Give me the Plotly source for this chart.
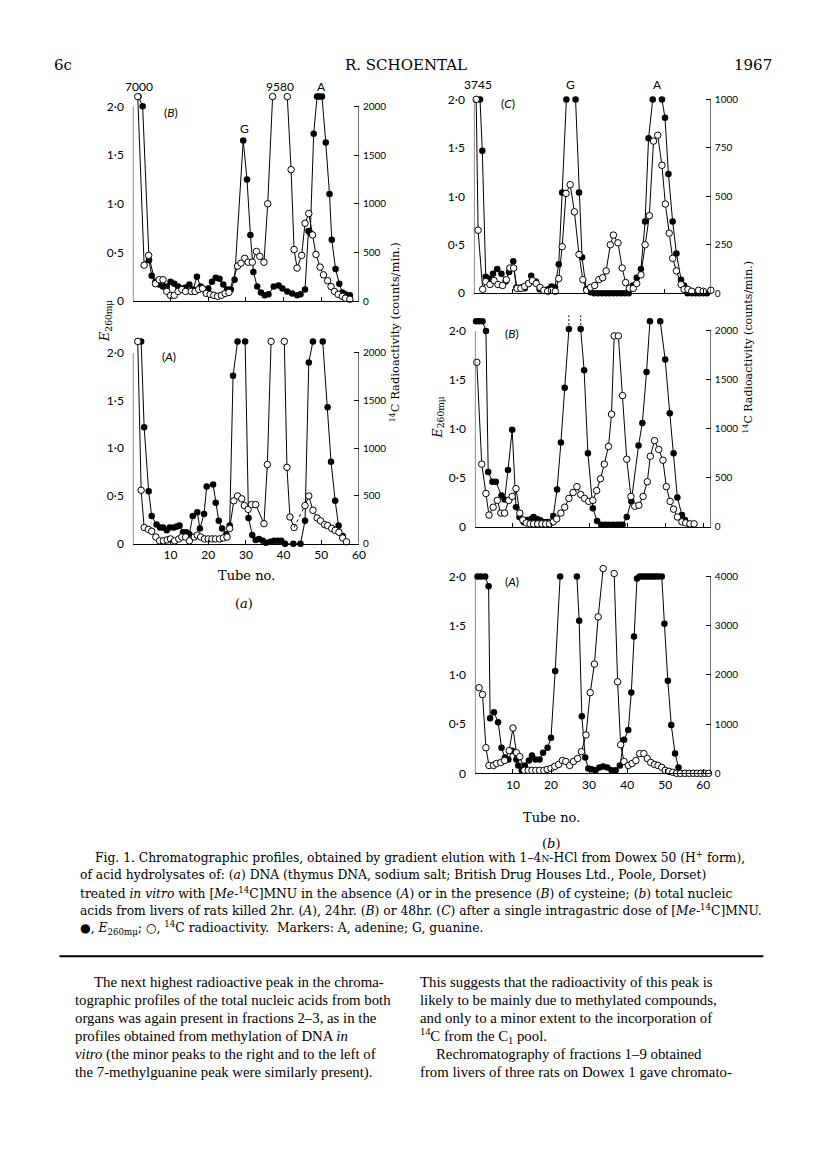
import plotly.graph_objects as go

W, H = 816, 1159
YMAX = 2.16          # top of each plotting box on the E260 scale
SERIF = "DejaVu Serif"
SANS = "Lato"

# ---------------- data: tube no. / E260 (filled) / 14C on E-scale (open) ----------------
# (a)(B)
aB_e_tube = [1.5, 2.6, 4.3, 5, 6, 7, 8, 9, 10, 11, 12, 13, 14, 15, 16, 17, 18, 19, 20, 21,
             22, 23, 24, 25, 26, 27, 29.3, 30.3, 31.2, 32, 33, 34, 35, 36, 37.4, 38.7, 39.7, 41,
             42.3, 43.6, 44.5, 45.7, 46.6, 47.1, 48, 48.9, 49.5, 50.2, 51.2, 52.2, 52.8, 53.8,
             54.8, 55.6, 56.4, 57.6]
aB_e = [2.1, 2.0, 0.42, 0.26, 0.2, 0.17, 0.15, 0.15, 0.2, 0.18, 0.15, 0.13, 0.14, 0.17, 0.12,
        0.25, 0.15, 0.12, 0.13, 0.2, 0.24, 0.23, 0.17, 0.12, 0.12, 0.22, 1.65, 1.25, 0.68, 0.3,
        0.15, 0.09, 0.06, 0.07, 0.15, 0.16, 0.13, 0.1, 0.08, 0.06, 0.07, 0.12, 0.72, 0.7, 1.72,
        2.1, 2.1, 2.1, 1.63, 1.1, 0.63, 0.33, 0.18, 0.09, 0.07, 0.06]
aB_r_tube = [1.3, 3.0, 4.2, 6, 7, 8, 9, 10, 11, 12, 13, 14, 15.5, 16.5, 17.5, 18.5, 19.5, 20.5,
             21.5, 22.5, 23.5, 24.5, 25.5, 27.8, 28.7, 29.7, 30.6, 31.7, 32.8, 33.7, 34.8, 35.8,
             37.1, None, 41, 42, 42.8, 43.6, 44.8, 45.7, 46.7, 47.7, 48.6, 49.7, 50.6, 51.7, 52.6,
             53.5, 54.5, 55.6, 56.4, 57.6]
aB_r = [2.1, 0.37, 0.47, 0.18, 0.22, 0.22, 0.1, 0.06, 0.06, 0.1, 0.12, 0.1, 0.1, 0.1, 0.12,
        0.13, 0.08, 0.07, 0.06, 0.05, 0.06, 0.08, 0.09, 0.36, 0.39, 0.44, 0.4, 0.4, 0.51, 0.46,
        0.4, 1.0, 2.1, None, 2.1, 1.35, 0.53, 0.34, 0.47, 0.8, 0.9, 0.68, 0.48, 0.35, 0.27, 0.21,
        0.15, 0.1, 0.07, 0.05, 0.03, 0.02]

# (a)(A)
aA_e_tube = [1.3, 2.2, 3, 4.2, 5, 6.3, 7.2, 8, 9, 9.8, 10.9, 11.7, 12.4, 13.3, 14.2, 15, 15.9,
             17.1, 17.8, 18.9, 19.6, 21.3, 22, 22.8, 23.7, 24.8, 25.7, 26.6, 27.8, None, 29.8,
             30.7, 31.7, 32.6, 33.5, 34.5, 35.3, 36.5, 37.5, 38.5, 39.4, 40.4, 42.6, 44.5, 45.7,
             46.7, 47.8, None, 50.4, 51.7, 52.6, 53.7, 54.6, 55.7]
aA_e = [2.12, 2.12, 1.22, 0.55, 0.29, 0.2, 0.17, 0.17, 0.14, 0.17, 0.17, 0.18, 0.19, 0.12, 0.12,
        0.1, 0.29, 0.33, 0.16, 0.31, 0.6, 0.62, 0.43, 0.24, 0.16, 0.1, 0.19, 1.76, 2.12, None,
        2.12, 0.27, 0.09, 0.04, 0.05, 0.03, 0.01, 0.02, 0.03, 0.03, 0.03, 0.0, 0.0, 0.0, 0.24,
        1.9, 2.12, None, 2.12, 1.43, 0.86, 0.45, 0.19, 0.08]
aA_r_tube = [1.3, 2.2, 3, 4.1, 5, 6.1, 7.1, 8.1, 9.1, 10, 11.1, 12.2, 13, 14, 15, 16.3, 17.1, 18,
             19, 20, 21, 21.9, 23, 24, 25, 25.7, 26.8, 27.8, 28.9, 29.6, 30.6, 31.5, 32.6, 34.8,
             35.7, 36.7, None, 40.2, 40.9, 41.7, 42.8]
aA_r = [2.12, 0.56, 0.17, 0.15, 0.13, 0.07, 0.03, 0.03, 0.04, 0.05, 0.03, 0.05, 0.07, 0.07, 0.03,
        0.07, 0.09, 0.07, 0.05, 0.05, 0.05, 0.05, 0.05, 0.06, 0.07, 0.16, 0.45, 0.5, 0.47, 0.4,
        0.36, 0.41, 0.41, 0.21, 0.83, 2.12, None, 2.12, 0.8, 0.28, 0.17]
aA_r2_tube = [45.7, 46.7, 47.8, 48.9, 49.8, 50.9, 51.7, 52.8, 53.7, 54.7, 55.7, 56.7]
aA_r2 = [0.4, 0.5, 0.35, 0.27, 0.24, 0.2, 0.19, 0.16, 0.14, 0.12, 0.06, 0.02]

# (b)(C)
bC_e_tube = [1.6, 2.2, 3.1, 4, 5, 6.1, 7.2, 8.3, 9.2, 10.3, 11.1, 12.3, 13.3, 14.2, 15, 16.2,
             17.2, 18.3, 19.4, 20.3, 21.2, 22.2, 23.1, 24.2, None, 26.6, 27.5, 28.3, 29.4, 30.5,
             31.5, 32.5, 33.5, 34.5, 35.5, 36.5, 37.5, 38.5, 39.5, 40.5, 41.6, 42.6, 43.7, 44.8,
             45.7, 46.8, None, 49.2, 50, 50.9, 52, 53, 54.2, 55, 55.9, 57, 58, 59, 60, 61]
bC_e = [2.0, 1.47, 0.17, 0.15, 0.2, 0.25, 0.2, 0.12, 0.22, 0.33, 0.06, 0.06, 0.05, 0.1, 0.18,
        0.12, 0.04, 0.03, 0.04, 0.07, 0.06, 0.3, 1.04, 2.0, None, 2.0, 1.04, 0.37, 0.04, 0.01,
        0.0, 0.0, 0.0, 0.0, 0.0, 0.0, 0.0, 0.0, 0.0, 0.0, 0.08, 0.16, 0.25, 0.74, 1.6, 2.0, None,
        2.0, 1.81, 1.23, 0.74, 0.41, 0.14, 0.08, 0.0, 0.0, 0.0, 0.0, 0.0, 0.0]
bC_r_tube = [0.6, 1.1, 2.3, 3.1, 4.2, 5.3, 6.3, 7.5, 8.5, 9.4, 10.4, 11.3, 12.3, 13.3, 14.3,
             15.3, 16.3, 17.3, 18.3, 19.3, 20.3, 21.3, 22.2, 23.1, 24.1, 25.2, 26.3, 27.5, 28.5,
             29.5, 30.5, 31.6, 32.7, 33.7, 34.6, 35.7, 36.5, 37.7, 38.8, 39.7, 40.7, 41.7, 42.6,
             43.7, 44.8, 45.9, 47, 48.1, 49.2, 50.1, 51.1, 52, 53, 54.2, 55, 56, 57, 58.8, 60, 62]
bC_r = [2.0, 0.65, 0.04, 0.12, 0.09, 0.13, 0.09, 0.08, 0.14, 0.26, 0.26, 0.05, 0.05, 0.07, 0.1,
        0.13, 0.1, 0.06, 0.03, 0.02, 0.03, 0.02, 0.15, 0.48, 1.03, 1.12, 0.84, 0.4, 0.14, 0.03,
        0.06, 0.08, 0.14, 0.16, 0.23, 0.5, 0.6, 0.52, 0.26, 0.11, 0.05, 0.05, 0.1, 0.19, 0.5, 0.8,
        1.57, 1.63, 1.32, 0.92, 0.62, 0.36, 0.23, 0.09, 0.04, 0.04, 0.02, 0.03, 0.02, 0.03]

# (b)(B)
bB_e_tube = [0.3, 1.1, 2, 2.9, 3.5, 4.6, 5.5, 7, 7.8, 8.7, 9.8, 10.8, 11.7, 12.8, 13.7, 14.8,
             15.4, 16.3, 17.1, 18, 19, 20.6, 21.6, 22.6, 23.6, 24.7, None, 27.8, 28.7, 29.7, 31,
             32.1, 33.2, 34.2, 35.2, 36.2, 37.2, 38, 38.8, 39.9, 41.1, 43, 44, 45.1, 46, None,
             48.7, 50, 51.2, 52.2, 53.2, 54.4, 55.2, 56.5]
bB_e = [2.1, 2.1, 2.1, 2.0, 0.56, 0.46, 0.46, 0.32, 0.28, 0.58, 0.99, 0.2, 0.1, 0.05, 0.07, 0.08,
        0.1, 0.08, 0.07, 0.05, 0.05, 0.11, 0.38, 0.86, 1.42, 2.02, None, 2.02, 1.6, 0.75, 0.19,
        0.06, 0.02, 0.02, 0.02, 0.02, 0.02, 0.02, 0.02, 0.1, 0.26, 0.83, 1.06, 1.58, 2.1, None,
        2.1, 1.71, 1.16, 0.75, 0.3, 0.12, 0.07, 0.02]
bB_r_tube = [0.5, 1.8, 2.9, 3.7, 4.8, 5.9, 6.8, 7.8, 8.9, 9.8, 10.8, 11.8, 12.6, 13.5, 14.5, 15.4,
             16.5, 17.6, 18.6, 19.6, 20.6, 21.5, 22.6, 23.6, 24.7, 25.8, 26.8, 27.8, 28.8, 29.9,
             31, 32, 33, 34, 35.1, 35.9, 36.6, 37.7, 38.8, 39.9, 41, 42, 43.1, 44.2, 45.3, 46.1,
             47.2, 48.3, 49.4, 50.3, 51.3, 52.2, 53.2, 54.4, 55.4, 56.5, 57.6]
bB_r = [1.68, 0.64, 0.34, 0.12, 0.2, 0.27, 0.14, 0.14, 0.27, 0.31, 0.39, 0.14, 0.07, 0.04, 0.03,
        0.03, 0.03, 0.03, 0.03, 0.03, 0.05, 0.08, 0.14, 0.2, 0.29, 0.35, 0.41, 0.33, 0.29, 0.26,
        0.27, 0.37, 0.49, 0.64, 0.82, 1.15, 1.95, 1.95, 1.34, 0.69, 0.31, 0.21, 0.22, 0.31, 0.46,
        0.72, 0.88, 0.79, 0.68, 0.41, 0.26, 0.18, 0.1, 0.05, 0.04, 0.03, 0.03]

# (b)(A)
bA_e_tube = [0.7, 1.6, 2.7, 3.6, 4, 5, 6.1, 7, 7.9, 8.8, 9.8, 10.9, 11.4, 12.3, 13.1, 14.2, 15,
             15.9, 17, 17.9, 19.1, 20, 21.1, 22.4, None, 26.8, 27.4, 28.1, 29, 29.8, 30.7, 31.7,
             32.7, 33.7, 34.8, 35.9, 37, 38.1, 39.2, 40.3, 41.1, 41.8, 42.6, 43.3, 44, 44.7, 45.4,
             46.1, 46.8, 47.5, 48.2, 49.1, 49.8, 50.7, 51.6, 52.6, 53.5, 54.3]
bA_e = [2.0, 2.0, 2.0, 1.9, 0.56, 0.62, 0.52, 0.26, 0.16, 0.14, 0.23, 0.14, 0.08, 0.03, 0.08,
        0.13, 0.18, 0.14, 0.14, 0.21, 0.26, 0.36, 1.04, 2.0, None, 2.0, 1.55, 0.58, 0.16, 0.05,
        0.04, 0.03, 0.06, 0.07, 0.06, 0.03, 0.03, 0.08, 0.34, 0.44, 0.82, 1.39, 1.98, 2.0, 2.0,
        2.0, 2.0, 2.0, 2.0, 2.0, 2.0, 2.0, 1.52, 0.94, 0.49, 0.2, 0.06, 0.0]
bA_r_tube = [1.1, 2, 2.9, 3.7, 4.9, 5.7, 6.8, 7.8, 9, 10, 10.9, 11.8, 13, 14, 15, 16, 17, 18.1,
             19, 20, 21, 22, 23, 23.9, 24.9, 25.9, 27, 28, 29.2, 30.3, 31.4, 32.4, 33.7, None,
             36.6, 37.5, 38.3, 39.2, 40.3, 41.3, 42.3, 43.3, 44.4, 45.3, 46.2, 47.2, 48.1, 49.1,
             50, 51, 52, 53, 54, 55.2, 56.3, 57.4, 58.4, 59.4, 60.4, 61.4]
bA_r = [0.87, 0.8, 0.26, 0.08, 0.08, 0.1, 0.11, 0.13, 0.23, 0.46, 0.21, 0.17, 0.03, 0.03, 0.03,
        0.03, 0.03, 0.03, 0.04, 0.05, 0.07, 0.09, 0.13, 0.12, 0.08, 0.12, 0.15, 0.22, 0.39, 0.82,
        1.11, 1.59, 2.08, None, 2.03, 0.93, 0.29, 0.12, 0.08, 0.1, 0.13, 0.2, 0.2, 0.15, 0.11,
        0.09, 0.08, 0.06, 0.03, 0.02, 0.01, 0.0, 0.0, 0.0, 0.0, 0.0, 0.0, 0.0, 0.0, 0.0]

# ---------------- panel geometry (page pixels) ----------------
panels = [
    dict(px=(134, 362), zero=303, ppu=98, xmax=60, rtop=2000, xlab=False,
         e=(aB_e_tube, aB_e), r=[(aB_r_tube, aB_r)], tag=("(<i>B</i>)", 172, 113),
         notes=[("7000", 1.6, 2.16), ("9580", 39.1, 2.16), ("A", 50, 2.16), ("G", 29.6, 1.73)]),
    dict(px=(134, 362), zero=547, ppu=96, xmax=60, rtop=2000, xlab=True,
         e=(aA_e_tube, aA_e), r=[(aA_r_tube, aA_r), (aA_r2_tube, aA_r2)], tag=("(<i>A</i>)", 170, 359),
         notes=[("4270", 2.0, 2.2), ("4240", 38.3, 2.2)]),
    dict(px=(478, 717), zero=295, ppu=97.5, xmax=62, rtop=1000, xlab=False,
         e=(bC_e_tube, bC_e), r=[(bC_r_tube, bC_r)], tag=("(<i>C</i>)", 512, 104),
         notes=[("3745", 1.0, 2.11), ("G", 25.3, 2.11), ("A", 48.0, 2.11)]),
    dict(px=(479, 717), zero=530, ppu=98.5, xmax=62, rtop=2000, xlab=False,
         e=(bB_e_tube, bB_e), r=[(bB_r_tube, bB_r)], tag=("(<i>B</i>)", 516, 336), notes=[]),
    dict(px=(479, 717), zero=778, ppu=99, xmax=62, rtop=4000, xlab=True,
         e=(bA_e_tube, bA_e), r=[(bA_r_tube, bA_r)], tag=("(<i>A</i>)", 516, 585),
         notes=[("7150", 35.3, 2.17)]),
]

fig = go.Figure()
layout = dict(width=W, height=H, margin=dict(l=0, r=0, t=0, b=0),
              paper_bgcolor="white", plot_bgcolor="white", showlegend=False)
shapes, notes = [], []
LFONT = dict(family=SANS, size=12, color="black")
RFONT = dict(family=SANS, size=10, color="black")


def text(s, x, y, size, font=SERIF, anchor="left", angle=0, **kw):
    notes.append(dict(text=s, x=x / W, y=1 - y / H, xref="paper", yref="paper", showarrow=False,
                      xanchor=anchor, yanchor="middle", textangle=angle,
                      font=dict(family=font, size=size, color="black"), **kw))


def scaled(vals, f):
    return [None if v is None else v * f for v in vals]


for i, p in enumerate(panels):
    xn = "" if i == 0 else str(i + 1)
    yl, yr = 2 * i + 1, 2 * i + 2
    yln = "" if yl == 1 else str(yl)
    top = p["zero"] - p["ppu"] * YMAX
    xd = [p["px"][0] / W, p["px"][1] / W]
    yd = [1 - p["zero"] / H, 1 - top / H]
    f = p["rtop"] / 2.0          # counts/min per E260 unit on this panel
    layout["xaxis" + xn] = dict(
        domain=xd, range=[0, p["xmax"]], anchor="y" + yln, showgrid=False, zeroline=False,
        showline=True, linecolor="black", linewidth=1, ticks="inside", ticklen=4,
        tickcolor="black", tickvals=[10, 20, 30, 40, 50, 60], showticklabels=p["xlab"],
        tickfont=LFONT)
    layout["yaxis" + yln] = dict(
        domain=yd, range=[0, YMAX], anchor="x" + xn, showgrid=False, zeroline=False,
        showline=False, ticks="", tickvals=[0, 0.5, 1, 1.5, 2],
        ticktext=["0", "0·5", "1·0", "1·5", "2·0"], ticklabelstandoff=8, tickfont=LFONT)
    layout["yaxis" + str(yr)] = dict(
        domain=yd, range=[0, YMAX * f], anchor="x" + xn, overlaying="y" + yln, side="right",
        showgrid=False, zeroline=False, showline=False, ticks="inside", ticklen=5,
        tickcolor="black", tickvals=[p["rtop"] * k / 4 for k in range(5)],
        ticktext=[str(int(p["rtop"] * k / 4)) for k in range(5)], ticklabelstandoff=3,
        tickfont=RFONT)
    # frame lines: left axis up to 2.0, right axis up to its top value
    for xv in (0, p["xmax"]):
        shapes.append(dict(type="line", xref="x" + xn, yref="y" + yln, x0=xv, x1=xv, y0=0, y1=2.0,
                           line=dict(color="black", width=1)))

    xa, ya, yra = "x" + xn, "y" + yln, "y" + str(yr)
    for tubes, vals in p["r"]:
        fig.add_trace(go.Scatter(x=tubes, y=scaled(vals, f), xaxis=xa, yaxis=yra,
                                 mode="lines+markers", line=dict(color="black", width=1),
                                 cliponaxis=False,
                                 marker=dict(symbol="circle", size=6.5, color="white",
                                             line=dict(color="black", width=1))))
    if len(p["r"]) == 2:
        a, b = p["r"]
        fig.add_trace(go.Scatter(x=[a[0][-1], b[0][0]], y=scaled([a[1][-1], b[1][0]], f),
                                 xaxis=xa, yaxis=yra, mode="lines",
                                 line=dict(color="black", width=1, dash="3px,3px")))
    fig.add_trace(go.Scatter(x=p["e"][0], y=p["e"][1], xaxis=xa, yaxis=ya, mode="lines+markers",
                             line=dict(color="black", width=1), cliponaxis=False,
                             marker=dict(symbol="circle", size=6.5, color="black")))
    for s, tx, ty in p["notes"]:
        notes.append(dict(text=s, x=tx, y=ty, xref=xa, yref=ya, showarrow=False,
                          yanchor="middle", yshift=4, font=dict(family=SANS, size=12, color="black")))
    tg = p["tag"]
    text(tg[0], tg[1], tg[2], 12, font=SANS, anchor="center")

# dotted continuation above the cut-off G peak in (b)(B)
gap = bB_e_tube.index(None)
for k in (gap - 1, gap + 1):
    fig.add_trace(go.Scatter(x=[bB_e_tube[k], bB_e_tube[k]], y=[bB_e[k] + 0.04, bB_e[k] + 0.15],
                             xaxis="x4", yaxis="y7", mode="lines", cliponaxis=False,
                             line=dict(color="black", width=1, dash="2px,2px")))

# axis titles
E260 = "<i>E</i><sub>260mμ</sub>"
RAD = "<sup>14</sup>C Radioactivity (counts/min.)"
text(E260, 106, 323, 13, anchor="center", angle=-90)
text(E260, 442, 420, 13, anchor="center", angle=-90)
text(RAD, 399, 335, 11.5, anchor="center", angle=-90)
text(RAD, 755, 350, 11, anchor="center", angle=-90)
text("Tube no.", 249, 579, 13, anchor="center")
text("(<i>a</i>)", 246, 607, 13, anchor="center")
text("Tube no.", 556, 822, 13, anchor="center")
text("(<i>b</i>)", 556, 849, 13, anchor="center")

# page header
text("6c", 52, 65, 15)
text("R. SCHOENTAL", 410, 65, 15, anchor="center")
text("1967", 781, 65, 15, anchor="right")

# caption
cap = [
    "Fig. 1. Chromatographic profiles, obtained by gradient elution with 1–4<span style='font-size:9px'>N</span>-HCl from Dowex 50 (H<sup>+</sup> form),",
    "of acid hydrolysates of: (<i>a</i>) DNA (thymus DNA, sodium salt; British Drug Houses Ltd., Poole, Dorset)",
    "treated <i>in vitro</i> with [<i>Me</i>-<sup>14</sup>C]MNU in the absence (<i>A</i>) or in the presence (<i>B</i>) of cysteine; (<i>b</i>) total nucleic",
    "acids from livers of rats killed 2hr. (<i>A</i>), 24hr. (<i>B</i>) or 48hr. (<i>C</i>) after a single intragastric dose of [<i>Me</i>-<sup>14</sup>C]MNU.",
    "●, <i>E</i><sub>260mμ</sub>; ○, <sup>14</sup>C radioactivity.  Markers: A, adenine; G, guanine.",
]
for k, line in enumerate(cap):
    text(line, 94 if k == 0 else 79, 862 + 18 * k, 12.3)

shapes.append(dict(type="line", xref="paper", yref="paper", x0=60 / W, x1=770 / W,
                   y0=1 - 962 / H, y1=1 - 962 / H, line=dict(color="black", width=2)))

left_col = [
    "The next highest radioactive peak in the chroma-",
    "tographic profiles of the total nucleic acids from both",
    "organs was again present in fractions 2–3, as in the",
    "profiles obtained from methylation of DNA <i>in</i>",
    "<i>vitro</i> (the minor peaks to the right and to the left of",
    "the 7-methylguanine peak were similarly present).",
]
right_col = [
    "This suggests that the radioactivity of this peak is",
    "likely to be mainly due to methylated compounds,",
    "and only to a minor extent to the incorporation of",
    "<sup>14</sup>C from the C<sub>1</sub> pool.",
    "Rechromatography of fractions 1–9 obtained",
    "from livers of three rats on Dowex 1 gave chromato-",
]
for k, line in enumerate(left_col):
    text(line, 93 if k == 0 else 74, 988 + 18.2 * k, 14.8, font="Liberation Serif")
for k, line in enumerate(right_col):
    text(line, 438 if k == 4 else 422, 988 + 18.2 * k, 14.8, font="Liberation Serif")

layout["shapes"] = shapes
layout["annotations"] = notes
fig.update_layout(**layout)
fig.write_html("out.html", config={"displayModeBar": False},
               post_script="document.body.style.margin='0';")
